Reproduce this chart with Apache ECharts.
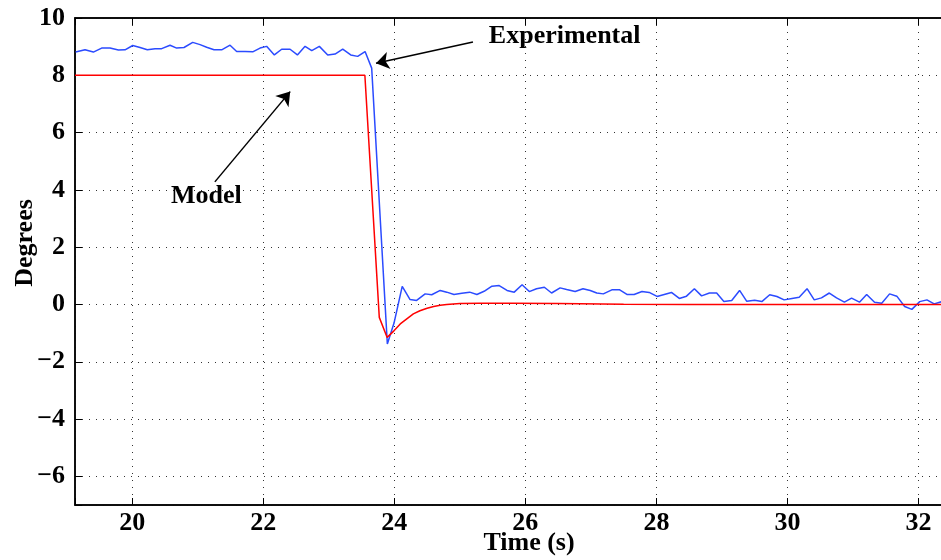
<!DOCTYPE html>
<html>
<head>
<meta charset="utf-8">
<script src="https://cdn.jsdelivr.net/npm/echarts@6/dist/echarts.min.js"></script>
<style>
  html, body { margin: 0; padding: 0; background: #fff; }
  #chart { width: 941px; height: 560px; }
</style>
</head>
<body>
<div id="chart"></div>
<script>
// experimental response (blue)
const expTime = [
  19.135, 19.278, 19.405, 19.532, 19.66, 19.787, 19.889, 20.006, 20.118, 20.229,
  20.347, 20.448, 20.576, 20.677, 20.789, 20.922, 21.034, 21.135, 21.247, 21.364,
  21.492, 21.593, 21.721, 21.838, 21.95, 22.05, 22.168, 22.28, 22.408, 22.52,
  22.637, 22.739, 22.855, 22.983, 23.095, 23.212, 23.334, 23.44, 23.553, 23.654,
  23.893, 23.995, 24.12, 24.24, 24.34, 24.47, 24.57, 24.70, 24.80, 24.91,
  25.03, 25.15, 25.26, 25.37, 25.49, 25.60, 25.72, 25.83, 25.95, 26.06,
  26.17, 26.29, 26.40, 26.53, 26.63, 26.76, 26.88, 26.99, 27.09, 27.19,
  27.32, 27.44, 27.55, 27.66, 27.78, 27.89, 28.01, 28.12, 28.23, 28.35,
  28.46, 28.58, 28.69, 28.81, 28.92, 29.03, 29.15, 29.27, 29.38, 29.50,
  29.61, 29.73, 29.84, 29.95, 30.07, 30.18, 30.30, 30.41, 30.52, 30.64,
  30.75, 30.87, 30.98, 31.10, 31.21, 31.33, 31.44, 31.56, 31.67, 31.79,
  31.90, 32.02, 32.13, 32.24, 32.36
];
const expDeg = [
  8.81, 8.89, 8.81, 8.95, 8.95, 8.88, 8.89, 9.04, 8.97, 8.89,
  8.93, 8.93, 9.05, 8.95, 8.97, 9.15, 9.07, 8.98, 8.89, 8.89,
  9.05, 8.83, 8.83, 8.82, 8.95, 9.01, 8.71, 8.91, 8.91, 8.71,
  9.01, 8.86, 9.01, 8.71, 8.74, 8.91, 8.71, 8.66, 8.83, 8.25,
  -1.38, -0.65, 0.63, 0.17, 0.14, 0.37, 0.34, 0.49, 0.43, 0.35,
  0.39, 0.43, 0.35, 0.46, 0.64, 0.66, 0.49, 0.43, 0.69, 0.45,
  0.55, 0.60, 0.40, 0.58, 0.52, 0.45, 0.55, 0.49, 0.40, 0.37,
  0.51, 0.51, 0.35, 0.35, 0.45, 0.42, 0.28, 0.35, 0.42, 0.21,
  0.29, 0.55, 0.30, 0.40, 0.40, 0.10, 0.14, 0.49, 0.11, 0.15,
  0.10, 0.34, 0.28, 0.16, 0.21, 0.25, 0.55, 0.16, 0.23, 0.40,
  0.23, 0.08, 0.22, 0.08, 0.35, 0.08, 0.04, 0.37, 0.29, -0.07,
  -0.17, 0.10, 0.16, 0.02, 0.10
];

// model response (red)
const modelTime = [19.125, 23.55, 23.77, 23.89, 23.99, 24.09, 24.19, 24.29, 24.39, 24.5,
  24.6, 24.7, 24.8, 25.0, 25.3, 25.8, 26.5, 27.5, 28.5, 32.36];
const modelDeg = [8, 8, -0.45, -1.15, -0.93, -0.68, -0.5, -0.33, -0.22, -0.13,
  -0.07, -0.03, 0.0, 0.03, 0.04, 0.04, 0.03, 0.01, 0.0, 0.0];

const xRange = [19.125, 32.36];
const yRange = [-7, 10];

const notes = [
  { text: 'Experimental', at: [26.6, 9.36], tail: [25.2, 9.16], tip: [23.72, 8.42] },
  { text: 'Model', at: [21.13, 3.78], tail: [21.26, 4.28], tip: [22.41, 7.43] }
];

const FONT = "'Liberation Serif', 'Times New Roman', serif";
const txt = { fontFamily: FONT, fontWeight: 'bold', fontSize: 26, color: '#000' };

function xFmt(v) {
  const r = Math.round(v);
  return (Math.abs(v - r) < 1e-6 && r % 2 === 0) ? String(r) : '';
}
function yFmt(v) {
  const r = Math.round(v);
  if (Math.abs(v - r) > 1e-6 || r % 2 !== 0) return '';
  return r < 0 ? '\u2212' + (-r) : String(r);
}

const axisLine = { show: true, onZero: false, lineStyle: { color: '#000', width: 1.5 } };
const dotted = { show: true, lineStyle: { type: [1, 6], color: '#333', width: 1 } };

const chart = echarts.init(document.getElementById('chart'));
chart.setOption({
  animation: false,
  grid: {
    left: 75, right: -1, top: 18, bottom: 55,
    outerBoundsMode: 'none', containLabel: false,
    show: true, borderColor: '#000', borderWidth: 1.5
  },
  xAxis: [{
    type: 'value', min: xRange[0], max: xRange[1], splitNumber: 7, position: 'bottom',
    axisLine: axisLine,
    axisTick: { inside: true, length: 7, lineStyle: { color: '#000' } },
    axisLabel: Object.assign({ margin: 5, formatter: xFmt }, txt),
    splitLine: dotted
  }, {
    type: 'value', min: xRange[0], max: xRange[1], splitNumber: 7, position: 'top',
    axisLine: axisLine,
    axisTick: { inside: true, length: 7, lineStyle: { color: '#000' } },
    axisLabel: { show: false },
    splitLine: { show: false }
  }],
  yAxis: {
    type: 'value', min: yRange[0], max: yRange[1], splitNumber: 8,
    axisLine: axisLine,
    axisTick: { inside: true, length: 7, lineStyle: { color: '#000' } },
    axisLabel: Object.assign({ margin: 10, formatter: yFmt }, txt),
    splitLine: dotted
  },
  series: [{
    type: 'line', name: 'Experimental',
    data: expTime.map((t, i) => [t, expDeg[i]]),
    symbol: 'none',
    lineStyle: { color: '#2b4bff', width: 1.5 },
    itemStyle: { color: '#2b4bff' }
  }, {
    type: 'line', name: 'Model',
    data: modelTime.map((t, i) => [t, modelDeg[i]]),
    symbol: 'none',
    lineStyle: { color: '#ff0000', width: 1.5 },
    itemStyle: { color: '#ff0000' },
    markLine: {
      silent: true,
      symbol: ['none', 'arrow'],
      symbolSize: 13,
      label: { show: false },
      lineStyle: { color: '#000', width: 1.5, type: 'solid' },
      data: notes.map(n => [{ coord: n.tail }, { coord: n.tip }])
    }
  }]
});

const graphic = notes.map(n => {
  const p = chart.convertToPixel({ gridIndex: 0 }, n.at);
  return { type: 'text', x: p[0], y: p[1], style: { text: n.text, align: 'center', verticalAlign: 'middle', fill: '#000', font: 'bold 26px ' + FONT } };
});
graphic.push({ type: 'text', x: 529, y: 543, style: { text: 'Time (s)', align: 'center', verticalAlign: 'middle', fill: '#000', font: 'bold 26px ' + FONT } });
graphic.push({ type: 'text', x: 25, y: 243, rotation: Math.PI / 2, style: { text: 'Degrees', align: 'center', verticalAlign: 'middle', fill: '#000', font: 'bold 26px ' + FONT } });
chart.setOption({ graphic: graphic });
</script>
</body>
</html>
